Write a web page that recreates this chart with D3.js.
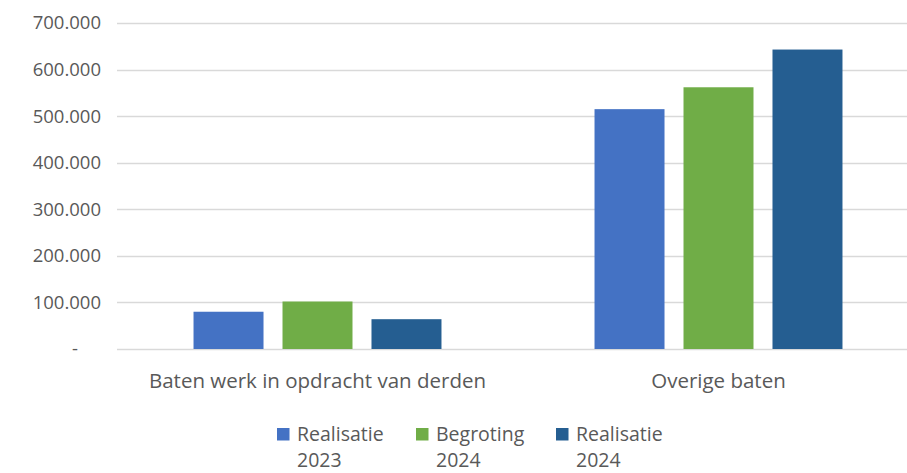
<!DOCTYPE html>
<html>
<head>
<meta charset="utf-8">
<script src="https://cdn.jsdelivr.net/npm/d3@7"></script>
<style>
  body { margin: 0; background: #fff; }
  text { font-family: "Open Sans", "Liberation Sans", sans-serif; fill: #595959; }
</style>
</head>
<body>
<div class="chart"></div>
<script>
// categories and series
var categories = ["Baten werk in opdracht van derden", "Overige baten"];
var seriesNames = [["Realisatie", "2023"], ["Begroting", "2024"], ["Realisatie", "2024"]];
var realisatie2023 = [80000, 515000];
var begroting2024 = [102000, 562000];
var realisatie2024 = [64000, 643000];
var yTicks = [0, 100000, 200000, 300000, 400000, 500000, 600000, 700000];
var colors = ["#4472C4", "#70AD47", "#255E91"];

var svgWidth = 907, svgHeight = 473;
var margin = { top: 23, right: -12, bottom: 124, left: 117 };
var chartWidth = svgWidth - margin.left - margin.right;
var chartHeight = svgHeight - margin.top - margin.bottom;

var svg = d3.select(".chart").append("svg")
  .attr("width", svgWidth)
  .attr("height", svgHeight);

var chartGroup = svg.append("g")
  .attr("transform", `translate(${margin.left}, ${margin.top})`);

var xScale = d3.scaleBand()
  .domain(categories)
  .range([0, chartWidth]);

var xInner = d3.scaleBand()
  .domain([0, 1, 2])
  .range([0, xScale.bandwidth()])
  .paddingInner(0.2135)
  .paddingOuter(0.86);

var yScale = d3.scaleLinear()
  .domain([0, 700000])
  .range([chartHeight, 0]);

// gridlines
chartGroup.append("g")
  .selectAll("line")
  .data(yTicks)
  .enter()
  .append("line")
  .attr("x1", 0)
  .attr("x2", chartWidth)
  .attr("y1", d => Math.round(yScale(d)) + 0.5)
  .attr("y2", d => Math.round(yScale(d)) + 0.5)
  .attr("stroke", "#d9d9d9")
  .attr("stroke-width", 1.5);

// y axis labels
var fmt = d => d === 0 ? "-" : d3.format(",")(d).replace(/,/g, ".");
var yAxis = d3.axisLeft(yScale).tickValues(yTicks).tickFormat(fmt).tickSize(0).tickPadding(16);
var yAxisG = chartGroup.append("g").call(yAxis);
yAxisG.select(".domain").remove();
yAxisG.selectAll("text")
  .attr("font-size", 18.5)
  .style("font-family", null)
  .attr("fill", "#595959");
yAxisG.selectAll(".tick").filter(d => d === 0).select("text").attr("dx", -23);

// bars
var series = [realisatie2023, begroting2024, realisatie2024];
var groups = chartGroup.selectAll(".cat")
  .data(categories)
  .enter()
  .append("g")
  .attr("transform", d => `translate(${xScale(d)}, 0)`);

groups.selectAll("rect")
  .data((d, ci) => series.map((s, si) => ({ si: si, v: s[ci] })))
  .enter()
  .append("rect")
  .attr("x", d => xInner(d.si))
  .attr("width", xInner.bandwidth())
  .attr("y", d => yScale(d.v))
  .attr("height", d => chartHeight - yScale(d.v))
  .attr("fill", d => colors[d.si]);

// x labels
chartGroup.append("g")
  .selectAll("text")
  .data(categories)
  .enter()
  .append("text")
  .attr("x", d => xScale(d) + xScale.bandwidth() / 2)
  .attr("y", chartHeight + 39)
  .attr("text-anchor", "middle")
  .attr("font-size", 20.5)
  .text(d => d);

// legend
var legendX = [277, 416, 556];
var legend = svg.append("g")
  .selectAll("g")
  .data(seriesNames)
  .enter()
  .append("g")
  .attr("transform", (d, i) => `translate(${legendX[i]}, 428)`);

legend.append("rect")
  .attr("width", 12.5)
  .attr("height", 12.5)
  .attr("fill", (d, i) => colors[i]);

legend.append("text")
  .attr("x", 20)
  .attr("y", 12.5)
  .attr("font-size", 19.5)
  .text(d => d[0]);

legend.append("text")
  .attr("x", 20)
  .attr("y", 39)
  .attr("font-size", 19.5)
  .text(d => d[1]);
</script>
</body>
</html>
